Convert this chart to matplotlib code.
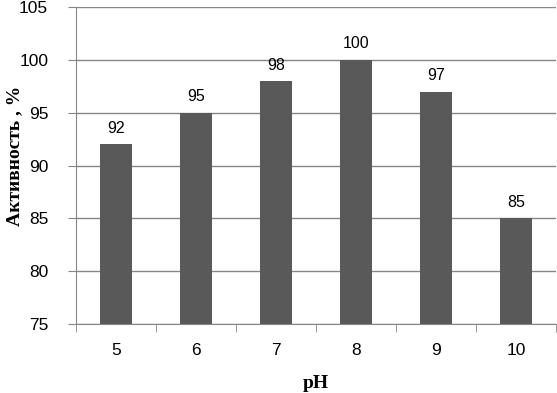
import matplotlib.pyplot as plt
import numpy as np

# data
ph = ['5', '6', '7', '8', '9', '10']
activity = [92, 95, 98, 100, 97, 85]
yticks = [75, 80, 85, 90, 95, 100, 105]

fig = plt.figure(figsize=(5.57, 3.93), dpi=100)
ax = fig.add_axes([76/557, 69/393, 480/557, 317/393])

x = np.arange(len(ph))
ax.bar(x, activity, width=0.4, color='#595959', zorder=3)

# value labels above the bars
for xi, v in zip(x, activity):
    ax.annotate(str(v), (xi, v), xytext=(0, 6), textcoords='offset points',
                ha='center', va='bottom', fontsize=11.5, family='Liberation Sans')

ax.set_ylim(75, 105)
ax.set_xlim(-0.5, len(ph) - 0.5)
ax.set_yticks(yticks)
ax.set_yticklabels([str(t) for t in yticks], family='Liberation Sans', fontsize=12.5)

# category labels in the middle, tick marks between categories
ax.set_xticks(x)
ax.set_xticklabels(ph, family='Liberation Sans', fontsize=12.5)
ax.tick_params(axis='x', length=0, pad=14)
ax.set_xticks(np.arange(-0.5, len(ph)), minor=True)
ax.tick_params(axis='x', which='minor', length=6, color='#868686', direction='out')
ax.tick_params(axis='y', length=6, color='#868686', pad=14)

ax.grid(axis='y', color='#868686', linewidth=1, zorder=0)
for s in ['top', 'right']:
    ax.spines[s].set_visible(False)
for s in ['left', 'bottom']:
    ax.spines[s].set_color('#868686')

ax.set_ylabel('Активность , %', family='Liberation Serif', fontweight='bold',
              fontsize=14)
ax.yaxis.set_label_coords(-0.11, 0.53)
ax.set_xlabel('pH', family='Liberation Serif', fontweight='bold', fontsize=14)
ax.xaxis.set_label_coords(0.5, -0.16)

fig.savefig('out.png', dpi=100)
